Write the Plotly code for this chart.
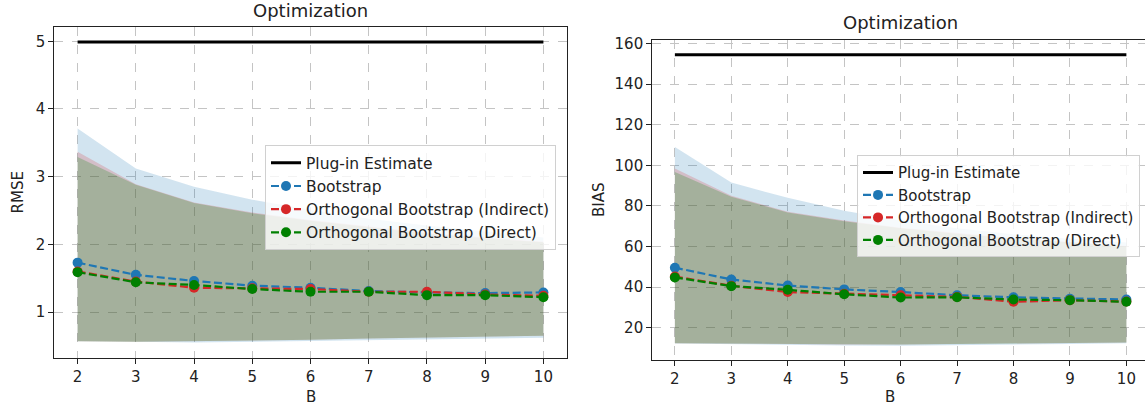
import plotly.graph_objects as go

# Number of bootstrap rounds
B = [2, 3, 4, 5, 6, 7, 8, 9, 10]

# RMSE panel
plugin_rmse = [4.99, 4.99, 4.99, 4.99, 4.99, 4.99, 4.99, 4.99, 4.99]
boot_rmse = [1.73, 1.55, 1.46, 1.39, 1.36, 1.31, 1.29, 1.28, 1.29]
ind_rmse = [1.60, 1.45, 1.36, 1.35, 1.34, 1.30, 1.30, 1.26, 1.24]
dir_rmse = [1.59, 1.44, 1.40, 1.34, 1.30, 1.30, 1.25, 1.25, 1.22]
boot_hi_rmse = [3.71, 3.12, 2.85, 2.66, 2.51, 2.38, 2.28, 2.19, 2.10]
ind_hi_rmse = [3.37, 2.89, 2.62, 2.47, 2.36, 2.26, 2.17, 2.10, 2.04]
dir_hi_rmse = [3.29, 2.88, 2.61, 2.46, 2.35, 2.25, 2.16, 2.09, 2.03]
boot_lo_rmse = [0.57, 0.56, 0.55, 0.56, 0.57, 0.59, 0.60, 0.61, 0.62]
ind_lo_rmse = [0.57, 0.56, 0.56, 0.58, 0.59, 0.61, 0.63, 0.64, 0.65]
dir_lo_rmse = [0.57, 0.56, 0.57, 0.58, 0.59, 0.61, 0.62, 0.64, 0.65]

# BIAS panel
plugin_bias = [154.5, 154.5, 154.5, 154.5, 154.5, 154.5, 154.5, 154.5, 154.5]
boot_bias = [49.6, 43.8, 40.8, 38.9, 37.6, 36.0, 35.0, 34.3, 33.9]
ind_bias = [45.2, 40.7, 37.6, 36.8, 36.0, 35.2, 32.8, 33.6, 32.9]
dir_bias = [44.8, 40.5, 38.7, 36.5, 34.9, 35.0, 33.9, 33.6, 32.8]
boot_hi_bias = [109.0, 91.5, 84.0, 77.6, 72.8, 69.0, 66.0, 63.8, 62.0]
ind_hi_bias = [98.4, 85.0, 77.2, 72.8, 69.3, 66.6, 64.2, 62.2, 60.3]
dir_hi_bias = [96.7, 84.5, 76.8, 72.5, 69.0, 66.3, 64.0, 62.0, 60.0]
boot_lo_bias = [12.3, 12.0, 11.6, 11.3, 11.1, 11.2, 11.6, 12.0, 12.4]
ind_lo_bias = [12.4, 12.1, 11.9, 11.8, 11.8, 12.0, 12.3, 12.5, 12.8]
dir_lo_bias = [12.4, 12.2, 12.0, 11.9, 11.8, 11.9, 12.2, 12.4, 12.7]

labels = ["Plug-in Estimate", "Bootstrap",
          "Orthogonal Bootstrap (Indirect)", "Orthogonal Bootstrap (Direct)"]

BLUE = "#1f77b4"
RED = "#d62728"
GREEN = "#008000"
FILLS = {BLUE: "rgba(31,119,180,0.2)", RED: "rgba(214,39,40,0.2)",
         GREEN: "rgba(0,128,0,0.22)"}
FONT = "DejaVu Sans"
W, H = 1145, 412

fig = go.Figure()


def add_panel(xa, ya, legend, plugin, means, his, los):
    colors = [BLUE, RED, GREEN]
    # shaded ranges first so every line sits above them
    for c, hi, lo in zip(colors, his, los):
        fig.add_trace(go.Scatter(
            x=B + B[::-1], y=hi + lo[::-1], fill="toself",
            fillcolor=FILLS[c], line=dict(width=0), mode="lines",
            showlegend=False, hoverinfo="skip", xaxis=xa, yaxis=ya))
    fig.add_trace(go.Scatter(
        x=B, y=plugin, mode="lines", name=labels[0],
        line=dict(color="black", width=3), legend=legend,
        xaxis=xa, yaxis=ya))
    for c, m, lab in zip(colors, means, labels[1:]):
        fig.add_trace(go.Scatter(
            x=B, y=m, mode="lines+markers", name=lab, legend=legend,
            line=dict(color=c, width=2.2, dash="8px,3.5px"),
            marker=dict(color=c, size=10),
            xaxis=xa, yaxis=ya))


add_panel("x", "y", "legend", plugin_rmse,
          [boot_rmse, ind_rmse, dir_rmse],
          [boot_hi_rmse, ind_hi_rmse, dir_hi_rmse],
          [boot_lo_rmse, ind_lo_rmse, dir_lo_rmse])
add_panel("x2", "y2", "legend2", plugin_bias,
          [boot_bias, ind_bias, dir_bias],
          [boot_hi_bias, ind_hi_bias, dir_hi_bias],
          [boot_lo_bias, ind_lo_bias, dir_lo_bias])


def px_x(p):
    return p / W


def px_y(p):
    return (H - p) / H


axis_common = dict(
    showgrid=True, gridcolor="#c4c4c4", griddash="dash", gridwidth=1,
    zeroline=False, ticks="outside", ticklen=5, tickwidth=1.2,
    tickcolor="#222", linecolor="#222", linewidth=1.2, showline=True,
    tickfont=dict(family=FONT, size=15, color="#222"),
)

fig.update_layout(
    width=W, height=H, margin=dict(l=0, r=0, t=0, b=0),
    paper_bgcolor="white", plot_bgcolor="white",
    font=dict(family=FONT, size=15, color="#222"),
    xaxis=dict(domain=[px_x(54.3), px_x(566.7)], range=[1.6, 10.4],
               tickvals=B, anchor="y", mirror=True, **axis_common),
    yaxis=dict(domain=[px_y(357.3), px_y(22.7)], range=[0.322, 5.205],
               tickvals=[1, 2, 3, 4, 5], anchor="x", mirror=True,
               **axis_common),
    xaxis2=dict(domain=[px_x(652.3), 1.0], range=[1.6, 10.33],
                tickvals=B, anchor="y2", mirror=True, **axis_common),
    yaxis2=dict(domain=[px_y(359.0), px_y(35.7)], range=[4.3, 161.6],
                tickvals=[20, 40, 60, 80, 100, 120, 140, 160],
                anchor="x2", **axis_common),
    legend=dict(x=px_x(265), y=px_y(142), xanchor="left", yanchor="top",
                bgcolor="rgba(255,255,255,0.8)", bordercolor="#d0d0d0",
                borderwidth=1, font=dict(family=FONT, size=15.5, color="#222")),
    legend2=dict(x=px_x(857), y=px_y(152), xanchor="left", yanchor="top",
                 bgcolor="rgba(255,255,255,0.8)", bordercolor="#d0d0d0",
                 borderwidth=1, font=dict(family=FONT, size=15, color="#222")),
    showlegend=True,
)

texts = [
    ("Optimization", px_x(310.5), px_y(6.0), 18, 0),
    ("Optimization", px_x(900.5), px_y(17.5), 18, 0),
    ("B", px_x(310.5), px_y(397), 15, 0),
    ("B", px_x(889.5), px_y(397), 15, 0),
    ("RMSE", px_x(17.7), px_y(190), 15, -90),
    ("BIAS", px_x(599), px_y(197.4), 15, -90),
]
for t, x, y, s, a in texts:
    fig.add_annotation(text=t, x=x, y=y, xref="paper", yref="paper",
                       xanchor="center", yanchor="middle", showarrow=False,
                       textangle=a, font=dict(family=FONT, size=s, color="#222"))

fig.write_html("out.html")
